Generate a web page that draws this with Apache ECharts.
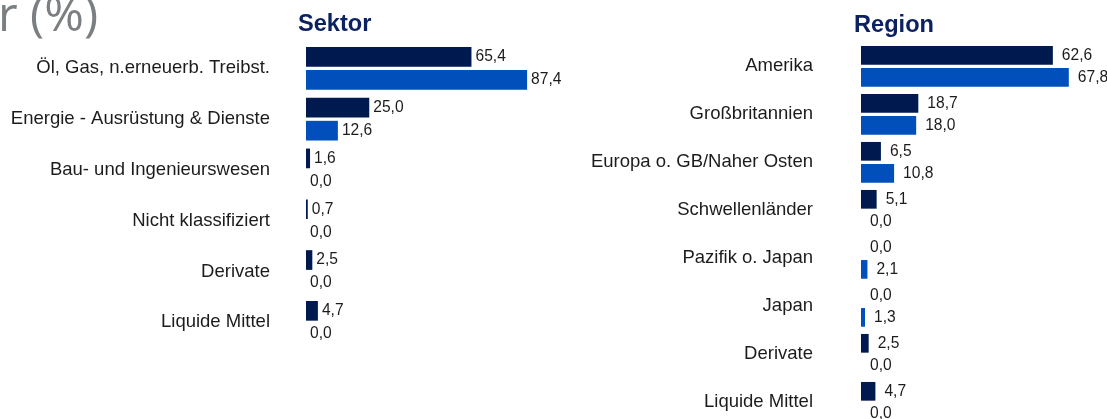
<!DOCTYPE html>
<html>
<head>
<meta charset="utf-8">
<title>Sektor / Region</title>
<script src="https://cdn.jsdelivr.net/npm/echarts@6/dist/echarts.min.js"></script>
<style>
  html, body { margin: 0; padding: 0; background: #ffffff; }
  #chart { width: 1107px; height: 419px; }
</style>
</head>
<body>
<div id="chart"></div>
<script>
// data (percent)
const sektorCategories = [
  "Öl, Gas, n.erneuerb. Treibst.",
  "Energie - Ausrüstung & Dienste",
  "Bau- und Ingenieurswesen",
  "Nicht klassifiziert",
  "Derivate",
  "Liquide Mittel",
];
const sektorFonds = [65.4, 25.0, 1.6, 0.7, 2.5, 4.7];
const sektorIndex = [87.4, 12.6, 0.0, 0.0, 0.0, 0.0];

const regionCategories = [
  "Amerika",
  "Großbritannien",
  "Europa o. GB/Naher Osten",
  "Schwellenländer",
  "Pazifik o. Japan",
  "Japan",
  "Derivate",
  "Liquide Mittel",
];
const regionFonds = [62.6, 18.7, 6.5, 5.1, 0.0, 0.0, 2.5, 4.7];
const regionIndex = [67.8, 18.0, 10.8, 0.0, 2.1, 1.3, 0.0, 0.0];

const DARK = "#001a50";
const BLUE = "#004fbb";
const TEXT = "#1c1c1c";
const FONT = "'Liberation Sans', Arial, sans-serif";

const fmt = (p) => p.value.toFixed(1).replace(".", ",");

function barSeries(name, data, color, axisIndex, width, gap, dist) {
  return {
    type: "bar",
    name: name,
    data: data,
    xAxisIndex: axisIndex,
    yAxisIndex: axisIndex,
    barWidth: width,
    barGap: gap,
    itemStyle: { color: color },
    silent: true,
    label: {
      show: true,
      position: "right",
      distance: dist,
      formatter: fmt,
      color: TEXT,
      fontFamily: FONT,
      fontSize: 15.6,
    },
  };
}

const chart = echarts.init(document.getElementById("chart"), null, { renderer: "canvas" });

chart.setOption({
  animation: false,
  graphic: [
    {
      type: "text",
      left: -2,
      top: -6.5,
      style: { text: "r (%)", font: "48px 'Open Sans', sans-serif", fill: "#7b7f81" },
    },
    {
      type: "text",
      x: 298,
      y: 24.2,
      style: {
        text: "Sektor",
        font: "bold 23.6px " + FONT,
        fill: "#0c2160",
        verticalAlign: "middle",
      },
    },
    {
      type: "text",
      x: 854,
      y: 25,
      style: {
        text: "Region",
        font: "bold 23.6px " + FONT,
        fill: "#0c2160",
        verticalAlign: "middle",
      },
    },
  ],
  grid: [
    { left: 306, top: 42.95, width: 253, height: 304.8, outerBoundsMode: "none" },
    { left: 861, top: 42.35, width: 245.2, height: 384, outerBoundsMode: "none" },
  ],
  xAxis: [
    { gridIndex: 0, type: "value", min: 0, max: 100, show: false },
    { gridIndex: 1, type: "value", min: 0, max: 80, show: false },
  ],
  yAxis: [
    {
      gridIndex: 0,
      type: "category",
      inverse: true,
      data: sektorCategories,
      axisLine: { show: false },
      axisTick: { show: false },
      splitLine: { show: false },
      axisLabel: { margin: 36, color: TEXT, fontFamily: FONT, fontSize: 18.5 },
    },
    {
      gridIndex: 1,
      type: "category",
      inverse: true,
      data: regionCategories,
      axisLine: { show: false },
      axisTick: { show: false },
      splitLine: { show: false },
      axisLabel: { margin: 48, color: TEXT, fontFamily: FONT, fontSize: 18.5 },
    },
  ],
  series: [
    barSeries("Fonds", sektorFonds, DARK, 0, 19.7, "17%", 4),
    barSeries("Index", sektorIndex, BLUE, 0, 19.7, "17%", 4),
    barSeries("Fonds", regionFonds, DARK, 1, 18.7, "18%", 9),
    barSeries("Index", regionIndex, BLUE, 1, 18.7, "18%", 9),
  ],
});
</script>
</body>
</html>
